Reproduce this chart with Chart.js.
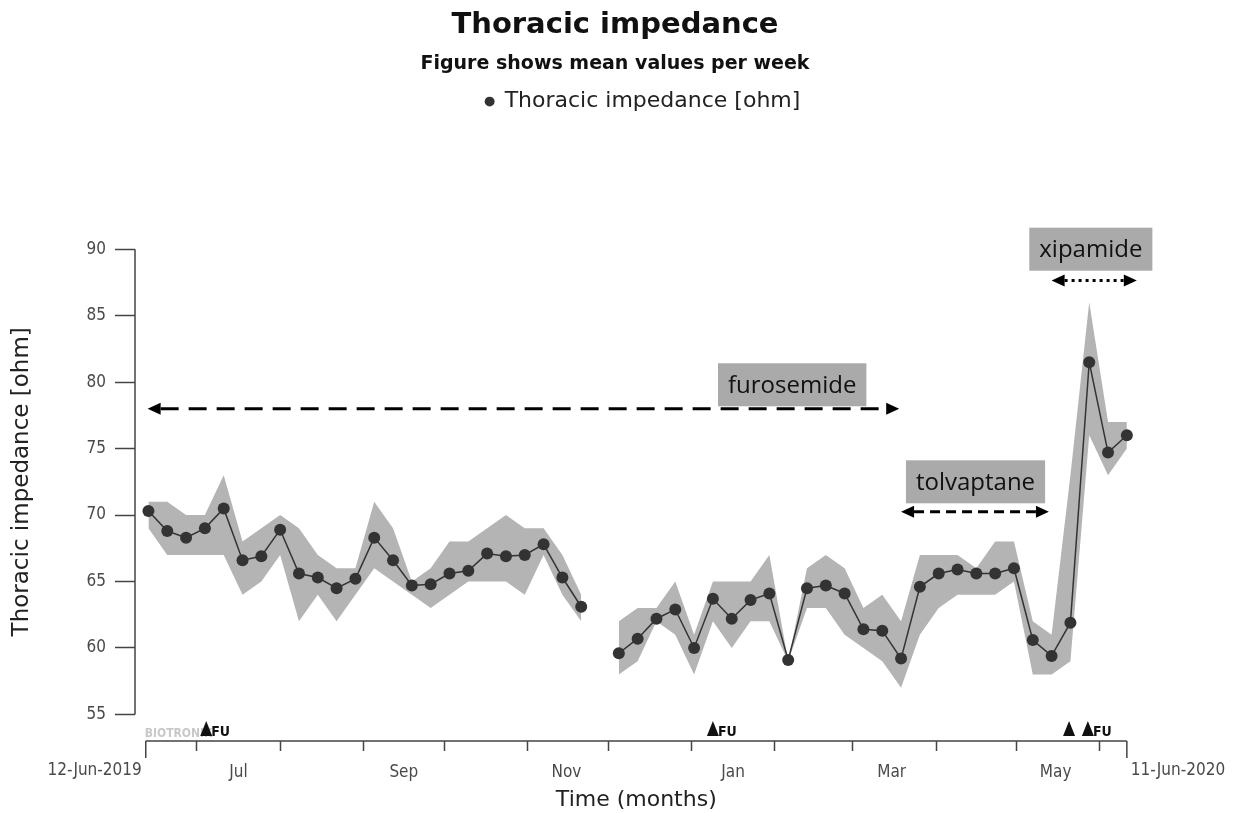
<!DOCTYPE html>
<html>
<head>
<meta charset="utf-8">
<title>Thoracic impedance</title>
<script src="https://cdn.jsdelivr.net/npm/chart.js@4.4.1/dist/chart.umd.min.js"></script>
<style>
  html, body { margin: 0; padding: 0; background: #fff; }
  #wrap { width: 1235px; height: 813px; }
</style>
</head>
<body>
<div id="wrap"><canvas id="impedanceChart"></canvas></div>
<script>
// days since 12-Jun-2019, one mean value per week
const weekDays = [1, 8, 15, 22, 29, 36, 43, 50, 57, 64, 71, 78, 85, 92, 99, 106, 113, 120,
  127, 134, 141, 148, 155, 162, 169, 176, 183, 190, 197, 204, 211, 218, 225, 232, 239, 246,
  253, 260, 267, 274, 281, 288, 295, 302, 309, 316, 323, 330, 337, 344, 351, 358, 365];

const meanImpedance = [70.3, 68.8, 68.3, 69.0, 70.5, 66.6, 66.9, 68.9, 65.6, 65.3, 64.5, 65.2,
  68.3, 66.6, 64.7, 64.8, 65.6, 65.8, 67.1, 66.9, 67.0, 67.8, 65.3, 63.1, null,
  59.6, 60.7, 62.2, 62.9, 60.0, 63.7, 62.2, 63.6, 64.1, 59.1, 64.5, 64.7, 64.1, 61.4,
  61.3, 59.2, 64.6, 65.6, 65.9, 65.6, 65.6, 66.0, 60.6, 59.4, 61.9, 81.5, 74.7, 76.0];

const upperImpedance = [71, 71, 70, 70, 73, 68, 69, 70, 69, 67, 66, 66,
  71, 69, 65, 66, 68, 68, 69, 70, 69, 69, 67, 64, null,
  62, 63, 63, 65, 61, 65, 65, 65, 67, 59, 66, 67, 66, 63,
  64, 62, 67, 67, 67, 66, 68, 68, 62, 61, 73, 86, 77, 77];

const lowerImpedance = [69, 67, 67, 67, 67, 64, 65, 67, 62, 64, 62, 64,
  66, 65, 64, 63, 64, 65, 65, 65, 64, 67, 64, 62, null,
  58, 59, 62, 61, 58, 62, 60, 62, 62, 59, 63, 63, 61, 60,
  59, 57, 61, 63, 64, 64, 64, 65, 58, 58, 59, 76, 73, 75];

const yTicks = [55, 60, 65, 70, 75, 80, 85, 90];
const monthStarts = [19, 50, 81, 111, 142, 172, 203, 234, 263, 294, 324, 355];
const monthLabelDays = [34.5, 96, 156.5, 218.5, 277.5, 338.5];
const monthLabels = ['Jul', 'Sep', 'Nov', 'Jan', 'Mar', 'May'];
const rangeDays = [0, 365];
const rangeLabels = ['12-Jun-2019', '11-Jun-2020'];
const xTitle = 'Time (months)';
const yTitle = 'Thoracic impedance [ohm]';

const drugNames = ['furosemide', 'tolvaptane', 'xipamide'];
const drugLabelDay = [240.5, 308.7, 351.6];
const drugLabelValue = [79.8, 72.5, 90.0];
const drugFrom = [0.7, 281, 337];
const drugTo = [280.3, 336, 368.7];
const drugArrowValue = [78, 70.25, 87.65];

const followUpDays = [22.5, 211, 343.5, 350.5];
const followUpText = ['FU', 'FU', '', 'FU'];

const tickFont = { family: '"DejaVu Sans Condensed", "DejaVu Sans", sans-serif', size: 17 };
const tickColor = '#4a4a4a';
const arrowStyles = [
  { dash: [18, 10], width: 3 },
  { dash: [10, 6], width: 3 },
  { dash: [3, 4], width: 3 }
];

function drawArrow(ctx, x1, x2, yy, style) {
  const head = 13;
  ctx.lineWidth = style.width;
  ctx.setLineDash(style.dash);
  ctx.beginPath();
  ctx.moveTo(x1 + head, yy);
  ctx.lineTo(x2 - head, yy);
  ctx.stroke();
  ctx.setLineDash([]);
  ctx.beginPath();
  ctx.moveTo(x1, yy);
  ctx.lineTo(x1 + head, yy - 6);
  ctx.lineTo(x1 + head, yy + 6);
  ctx.closePath();
  ctx.fill();
  ctx.beginPath();
  ctx.moveTo(x2, yy);
  ctx.lineTo(x2 - head, yy - 6);
  ctx.lineTo(x2 - head, yy + 6);
  ctx.closePath();
  ctx.fill();
}

const extras = {
  id: 'extras',
  beforeInit(chart) {
    // leave the empty band between legend and plot
    const legend = chart.legend;
    if (legend) {
      const fit = legend.fit;
      legend.fit = function () {
        fit.call(this);
        this.height = 173.6;
      };
    }
  },
  afterLayout(chart) {
    // legend sits a little right of centre in the original
    if (chart.legend) {
      chart.legend.left += 28;
      chart.legend.right += 28;
    }
  },
  afterDraw(chart) {
    const ctx = chart.ctx;
    const xs = chart.scales.x;
    const ys = chart.scales.y;
    const bottom = ys.bottom;
    ctx.save();

    // offset axis lines
    ctx.strokeStyle = '#444';
    ctx.lineWidth = 1.5;
    ctx.beginPath();
    const yTop = ys.getPixelForValue(yTicks[yTicks.length - 1]);
    const yBot = ys.getPixelForValue(yTicks[0]);
    ctx.moveTo(xs.left, yBot);
    ctx.lineTo(xs.left, yTop);
    const x0 = xs.getPixelForValue(rangeDays[0]);
    const x1 = xs.getPixelForValue(rangeDays[1]);
    ctx.moveTo(x0, bottom);
    ctx.lineTo(x1, bottom);
    ctx.moveTo(x0, bottom);
    ctx.lineTo(x0, bottom + 17);
    ctx.moveTo(x1, bottom);
    ctx.lineTo(x1, bottom + 17);
    ctx.stroke();

    ctx.fillStyle = tickColor;
    ctx.font = tickFont.size + 'px ' + tickFont.family;
    ctx.textBaseline = 'top';
    ctx.textAlign = 'right';
    ctx.fillText(rangeLabels[0], x0 - 4, bottom + 21);
    ctx.textAlign = 'left';
    ctx.fillText(rangeLabels[1], x1 + 4, bottom + 21);

    // axis titles, centred on the drawn axis lines
    ctx.fillStyle = '#222';
    ctx.font = '22px "DejaVu Sans", sans-serif';
    ctx.textAlign = 'center';
    ctx.textBaseline = 'middle';
    ctx.fillText(xTitle, (x0 + x1) / 2, bottom + 59);
    ctx.save();
    ctx.translate(22, (yTop + yBot) / 2);
    ctx.rotate(-Math.PI / 2);
    ctx.font = '23px "DejaVu Sans", sans-serif';
    ctx.fillText(yTitle, 0, 0);
    ctx.restore();

    // watermark and follow-up markers
    ctx.textAlign = 'left';
    ctx.textBaseline = 'alphabetic';
    ctx.fillStyle = '#c8c8c8';
    ctx.font = 'bold 12px "DejaVu Sans Condensed", sans-serif';
    ctx.fillText('BIOTRONIK', x0 - 1, bottom - 4);
    ctx.fillStyle = '#111';
    ctx.font = 'bold 14px "DejaVu Sans Condensed", sans-serif';
    followUpDays.forEach((d, i) => {
      const px = xs.getPixelForValue(d);
      ctx.beginPath();
      ctx.moveTo(px, bottom - 20);
      ctx.lineTo(px - 6, bottom - 5);
      ctx.lineTo(px + 6, bottom - 5);
      ctx.closePath();
      ctx.fill();
      if (followUpText[i]) {
        ctx.fillText(followUpText[i], px + 5, bottom - 5);
      }
    });

    // therapy arrows and labels
    ctx.fillStyle = '#000';
    ctx.strokeStyle = '#000';
    drugNames.forEach((name, i) => {
      drawArrow(ctx, xs.getPixelForValue(drugFrom[i]), xs.getPixelForValue(drugTo[i]),
        ys.getPixelForValue(drugArrowValue[i]), arrowStyles[i]);
    });
    ctx.font = '24px "Open Sans", sans-serif';
    ctx.textAlign = 'center';
    ctx.textBaseline = 'middle';
    drugNames.forEach((name, i) => {
      const cx = xs.getPixelForValue(drugLabelDay[i]);
      const cy = ys.getPixelForValue(drugLabelValue[i]);
      const w = ctx.measureText(name).width + 20;
      ctx.fillStyle = '#aaaaaa';
      ctx.fillRect(cx - w / 2, cy - 21.5, w, 43);
      ctx.fillStyle = '#111';
      ctx.fillText(name, cx, cy + 1);
    });
    ctx.restore();
  }
};

new Chart(document.getElementById('impedanceChart'), {
  type: 'line',
  data: {
    datasets: [
      {
        label: 'Thoracic impedance [ohm]',
        data: weekDays.map((d, i) => ({ x: d, y: meanImpedance[i] })),
        borderColor: '#333',
        backgroundColor: '#333',
        borderWidth: 1.5,
        pointRadius: 6,
        pointHoverRadius: 6,
        pointBorderWidth: 0,
        fill: false
      },
      {
        label: 'upper',
        data: weekDays.map((d, i) => ({ x: d, y: upperImpedance[i] })),
        borderWidth: 0,
        pointRadius: 0,
        backgroundColor: '#b4b4b4',
        fill: '+1'
      },
      {
        label: 'lower',
        data: weekDays.map((d, i) => ({ x: d, y: lowerImpedance[i] })),
        borderWidth: 0,
        pointRadius: 0,
        fill: false
      }
    ]
  },
  options: {
    responsive: true,
    maintainAspectRatio: false,
    animation: false,
    layout: { padding: { top: 0, left: 0, right: 5, bottom: 0 } },
    plugins: {
      title: {
        display: true,
        text: 'Thoracic impedance',
        color: '#111',
        font: { family: '"DejaVu Sans", sans-serif', size: 29, weight: 'bold' },
        padding: { top: 8, bottom: 10 }
      },
      subtitle: {
        display: true,
        text: 'Figure shows mean values per week',
        color: '#111',
        font: { family: '"DejaVu Sans", sans-serif', size: 19, weight: 'bold' },
        padding: { top: 0, bottom: 0 }
      },
      legend: {
        labels: {
          filter: item => item.datasetIndex === 0,
          usePointStyle: true,
          pointStyle: 'circle',
          boxWidth: 8,
          boxHeight: 7,
          padding: 15,
          color: '#222',
          font: { family: '"DejaVu Sans", sans-serif', size: 22 }
        }
      },
      tooltip: { enabled: false }
    },
    scales: {
      x: {
        type: 'linear',
        min: -4,
        max: 403,
        afterBuildTicks: s => {
          s.ticks = monthStarts.concat(monthLabelDays).sort((a, b) => a - b).map(v => ({ value: v }));
        },
        afterFit: s => { s.height = 72; },
        border: { display: false },
        grid: {
          drawOnChartArea: false,
          tickLength: 10,
          tickWidth: 1.5,
          tickColor: c => (c.tick && monthStarts.includes(c.tick.value)) ? '#444' : 'rgba(0,0,0,0)'
        },
        ticks: {
          autoSkip: false,
          maxRotation: 0,
          padding: 11,
          color: tickColor,
          font: tickFont,
          callback: v => {
            const i = monthLabelDays.indexOf(v);
            return i >= 0 ? monthLabels[i] : '';
          }
        }
      },
      y: {
        min: 53,
        max: 90,
        afterBuildTicks: s => { s.ticks = yTicks.map(v => ({ value: v })); },
        afterFit: s => { s.width = 135; },
        border: { display: false },
        grid: { drawOnChartArea: false, tickLength: 20, tickWidth: 1.5, tickColor: '#444' },
        ticks: { padding: 9, color: tickColor, font: tickFont }
      }
    }
  },
  plugins: [extras]
});
</script>
</body>
</html>
